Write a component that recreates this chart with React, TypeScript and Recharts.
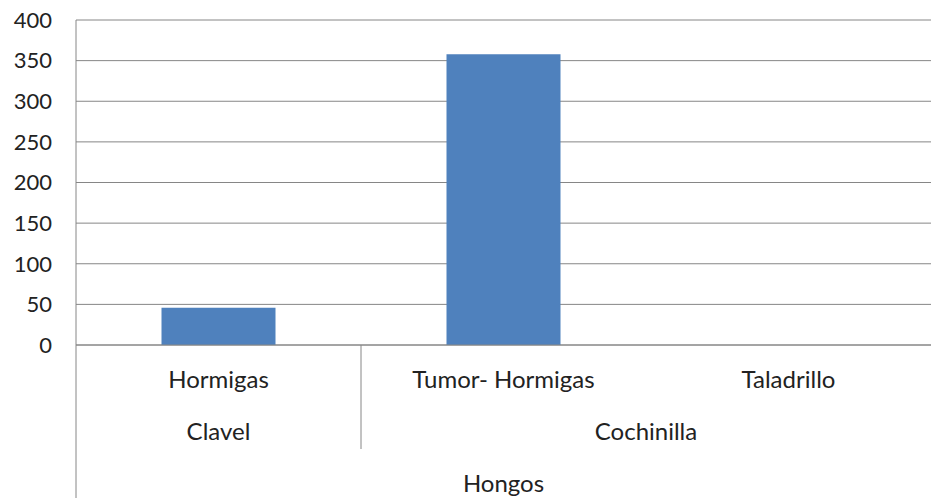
import { BarChart, Bar, XAxis, YAxis, CartesianGrid } from "recharts";

// lowest axis level: one per bar
const categories = ["Hormigas", "Tumor- Hormigas", "Taladrillo"];
// middle level (runs of equal names are merged)
const plants = ["Clavel", "Cochinilla", "Cochinilla"];
// top level
const groups = ["Hongos", "Hongos", "Hongos"];
const values = [46, 358, 0];
const yTicks = [0, 50, 100, 150, 200, 250, 300, 350, 400];

const data = categories.map((name, i) => ({ name, value: values[i] }));

const GRID = "#868686";
const TEXT = "#222222";
const FONT = "Lato, 'Open Sans', sans-serif";

function runEnd(list: string[], i: number) {
  let j = i;
  while (j + 1 < list.length && list[j + 1] === list[i]) j++;
  return j;
}

function CategoryTick(props: any) {
  const { x, y, index, width } = props;
  const step = (typeof width === "number" && width > 0 ? width : 855) / categories.length;
  const out: any[] = [];

  out.push(
    <text key="l1" x={x} y={y + 43} textAnchor="middle" fill={TEXT} fontSize={24}>
      {categories[index]}
    </text>
  );

  if (index === 0 || plants[index - 1] !== plants[index]) {
    const end = runEnd(plants, index);
    out.push(
      <text key="l2" x={x + ((end - index) * step) / 2} y={y + 95} textAnchor="middle" fill={TEXT} fontSize={24}>
        {plants[index]}
      </text>
    );
    if (index > 0) {
      out.push(<line key="s2" x1={x - step / 2} x2={x - step / 2} y1={y} y2={y + 104} stroke={GRID} />);
    }
  }

  if (index === 0 || groups[index - 1] !== groups[index]) {
    const end = runEnd(groups, index);
    out.push(
      <text key="l3" x={x + ((end - index) * step) / 2} y={y + 147} textAnchor="middle" fill={TEXT} fontSize={24}>
        {groups[index]}
      </text>
    );
    out.push(<line key="s3" x1={x - step / 2} x2={x - step / 2} y1={y} y2={y + 160} stroke={GRID} />);
  }

  return <g>{out}</g>;
}

export default function App() {
  return (
    <div style={{ position: "absolute", left: 0, top: 0, background: "#fff", fontFamily: FONT }}>
      <BarChart
        width={931}
        height={498}
        data={data}
        margin={{ top: 20, right: 0, bottom: 0, left: 0 }}
        barCategoryGap="30%"
      >
        <CartesianGrid vertical={false} stroke={GRID} strokeWidth={1} />
        <XAxis
          dataKey="name"
          height={153}
          interval={0}
          stroke={GRID}
          tickLine={false}
          tickSize={0}
          tickMargin={0}
          tick={<CategoryTick />}
        />
        <YAxis
          width={76}
          domain={[0, 400]}
          ticks={yTicks}
          stroke={GRID}
          tickLine={false}
          tickSize={0}
          tickMargin={24}
          tick={{ fill: TEXT, fontSize: 22, fontFamily: FONT }}
        />
        <Bar dataKey="value" fill="#4F81BD" isAnimationActive={false} />
      </BarChart>
    </div>
  );
}
